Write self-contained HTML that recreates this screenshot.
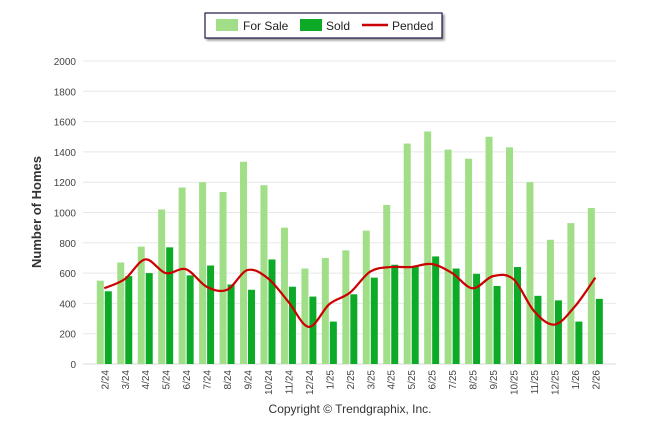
<!DOCTYPE html>
<html><head><meta charset="utf-8"><style>
body{margin:0;background:#fff;font-family:"Liberation Sans",Arial,sans-serif;}
svg{display:block}
</style></head><body>
<svg id="chart" width="646" height="434">
<g>
<rect x="205" y="13" width="237" height="25" fill="#fff" stroke="#1a1a4a" stroke-width="1.2" style="filter:drop-shadow(2px 2px 1px #999)"/>
<rect x="216" y="19" width="22" height="12" fill="#a0df88"/>
<text x="243" y="30" font-size="12" fill="#222">For Sale</text>
<rect x="300" y="19" width="22" height="12" fill="#0daa27"/>
<text x="326" y="30" font-size="12" fill="#222">Sold</text>
<line x1="362" y1="25" x2="388" y2="25" stroke="#cc0000" stroke-width="2.5"/>
<text x="392" y="30" font-size="12" fill="#222">Pended</text>
</g>
<text transform="translate(41,212) rotate(-90)" text-anchor="middle" font-size="13" font-weight="bold" fill="#333">Number of Homes</text>
<text x="350" y="413" text-anchor="middle" font-size="12" fill="#333">Copyright © Trendgraphix, Inc.</text>
<g id="grid"></g><g id="bars"></g><g id="line"></g><g id="xl"></g>
</svg>
<script>
const categories=["2/24","3/24","4/24","5/24","6/24","7/24","8/24","9/24","10/24","11/24","12/24","1/25","2/25","3/25","4/25","5/25","6/25","7/25","8/25","9/25","10/25","11/25","12/25","1/26","2/26"];
const forSale=[550,670,775,1020,1165,1200,1135,1335,1180,900,630,700,750,880,1050,1455,1535,1415,1355,1500,1430,1200,820,930,1030];
const sold=[480,580,600,770,585,650,525,490,690,510,445,280,460,570,655,645,710,630,595,515,640,450,420,280,430];
const pended=[500,560,690,600,625,510,490,620,565,410,245,395,470,610,640,640,660,600,500,580,560,350,260,380,570];
const yTicks=[0,200,400,600,800,1000,1200,1400,1600,1800,2000];
const NS="http://www.w3.org/2000/svg";
const y=v=>364-v*303/2000;
const x=i=>104.3+i*20.46;
function mk(t,a,p){const e=document.createElementNS(NS,t);for(const k in a)e.setAttribute(k,a[k]);p.appendChild(e);return e;}
const grid=document.getElementById('grid');
yTicks.forEach(t=>{
 const l=mk('line',{x1:83,x2:616,y1:y(t),y2:y(t),stroke:t===0?'#d8d8d8':'#e8e8e8','stroke-width':1},grid);
 
 
 const tx=mk('text',{x:76,y:y(t)+4,'text-anchor':'end','font-size':10,fill:'#444'},grid);tx.textContent=t;
 
 
});
const bars=document.getElementById('bars'),xl=document.getElementById('xl');
categories.forEach((c,i)=>{
 const a=mk('rect',{x:x(i)-7.5,y:y(forSale[i]),width:7,height:364-y(forSale[i]),fill:'#a0df88'},bars);
 
 
 const b=mk('rect',{x:x(i)+0.5,y:y(sold[i]),width:7,height:364-y(sold[i]),fill:'#0daa27'},bars);
 
 
 const t=mk('text',{transform:`translate(${x(i)+4},370) rotate(-90)`,'text-anchor':'end','font-size':10,fill:'#444'},xl);t.textContent=c;
 
 
});
// smooth line (Catmull-Rom)
const pts=pended.map((v,i)=>[x(i),y(v)]);
let d=`M${pts[0][0]},${pts[0][1]}`;
for(let i=0;i<pts.length-1;i++){
 const p0=pts[Math.max(0,i-1)],p1=pts[i],p2=pts[i+1],p3=pts[Math.min(pts.length-1,i+2)];
 const c1=[p1[0]+(p2[0]-p0[0])/6,p1[1]+(p2[1]-p0[1])/6],c2=[p2[0]-(p3[0]-p1[0])/6,p2[1]-(p3[1]-p1[1])/6];
 d+=` C${c1[0]},${c1[1]} ${c2[0]},${c2[1]} ${p2[0]},${p2[1]}`;
}
const ln=mk('path',{d:d,fill:'none',stroke:'#cc0000','stroke-width':2.2},document.getElementById('line'));


</script>
</body></html>
